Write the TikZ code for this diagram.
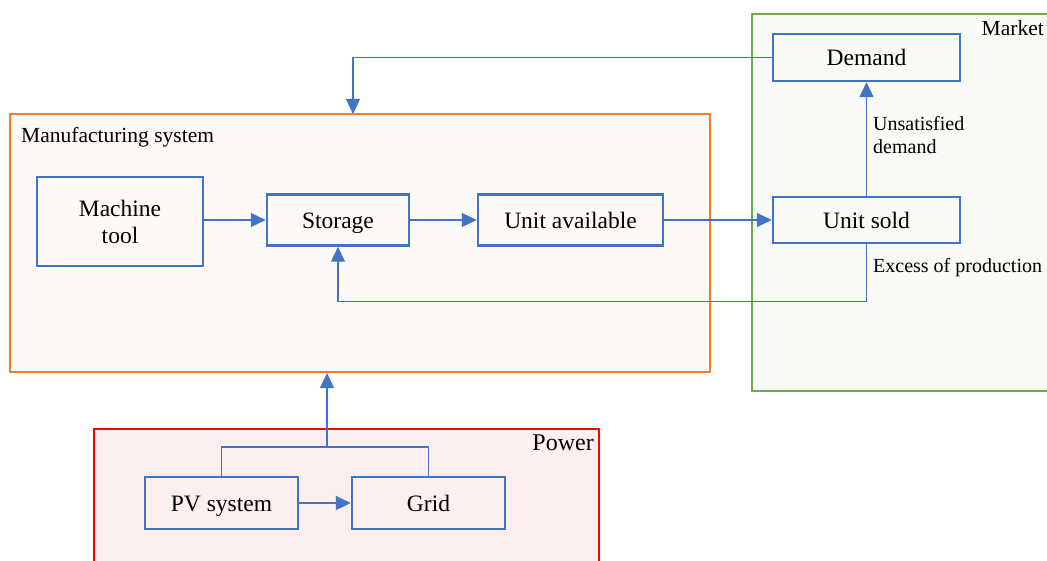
\documentclass[tikz,border=0pt]{standalone}
\usepackage{fontspec}
\setmainfont{Liberation Serif}
\usetikzlibrary{arrows.meta,calc}
\definecolor{cblue}{HTML}{4472C4}
\definecolor{corange}{HTML}{ED7D31}
\definecolor{cgreen}{HTML}{70AD47}
\definecolor{cred}{HTML}{FF0000}
\definecolor{fmfg}{HTML}{FDF9F6}
\definecolor{fmkt}{HTML}{F8FAF6}
\definecolor{fpow}{HTML}{FDEFEF}
\tikzset{
  stepbox/.style={draw=cblue, line width=2.5pt, inner sep=0pt, align=center,
    font=\fontsize{23.5}{27}\selectfont},
  onebox/.style={stepbox, text height=17pt, text depth=0pt},
  container/.style={line width=2pt, inner sep=0pt},
  lbl/.style={font=\fontsize{20}{23}\selectfont, inner sep=0pt, align=left},
  arr/.style={draw=cblue, line width=1.3pt, -{Triangle[length=15pt,width=14pt]}},
  ln/.style={draw=cblue, line width=1.3pt}
}
\begin{document}
\begin{tikzpicture}[x=1pt,y=-1pt]
\clip (0,0) rectangle (1047,561);
\fill[white] (0,0) rectangle (1047,561);
% containers
\node[container, draw=cgreen, fill=fmkt, minimum width=320pt, minimum height=377pt] (mkt) at (912,202.5) {};
\node[container, draw=corange, fill=fmfg, minimum width=700pt, minimum height=258pt] (mfg) at (360,243) {};
\node[container, draw=cred, fill=fpow, minimum width=505pt, minimum height=160pt] (pow) at (346.5,509) {};
% labels of containers
\node[lbl, anchor=east, font=\fontsize{21.5}{24}\selectfont] (mktl) at (1044,28) {Market};
\node[lbl, anchor=west, font=\fontsize{21.5}{24}\selectfont] (mfgl) at (21,137) {Manufacturing system};
\node[lbl, anchor=east, font=\fontsize{24}{26}\selectfont] (powl) at (594,443) {Power};
% boxes
\node[onebox, minimum width=187pt, minimum height=47pt] (dem) at (866.5,57.5) {Demand};
\node[onebox, minimum width=187pt, minimum height=46pt] (sold) at (866.5,220) {Unit sold};
\node[stepbox, minimum width=166pt, minimum height=89pt] (mach) at (120,221.5) {Machine\\[0pt]tool};
\node[onebox, minimum width=142pt, minimum height=51pt] (stor) at (338,220) {Storage};
\node[onebox, minimum width=185pt, minimum height=51pt] (avail) at (570.5,220) {Unit available};
\node[onebox, minimum width=153pt, minimum height=52pt] (pv) at (221.5,503) {PV system};
\node[onebox, minimum width=153pt, minimum height=52pt] (grid) at (428.5,503) {Grid};
% edge labels
\node[lbl, anchor=west] (unsat) at (873,135.5) {Unsatisfied\\demand};
\node[lbl, anchor=west] (excess) at (873,268) {Excess of production};
% connectors
\coordinate (mtop) at (353,114);
\coordinate (pjoin) at (327,447);
\draw[arr] (dem.west) -| (mtop);
\draw[arr] (mach.east |- stor.west) -- (stor.west);
\draw[arr] (stor.east) -- (avail.west);
\draw[arr] (avail.east) -- (sold.west);
\draw[arr] (sold.north) -- (dem.south);
\draw[arr] (sold.south) -- ++(0,57) -| (stor.south);
\draw[ln] (pv.north) |- (pjoin) -| (grid.north);
\draw[arr] (pjoin) -- (pjoin |- mfg.south);
\draw[arr] (pv.east) -- (grid.west);
\end{tikzpicture}
\end{document}
